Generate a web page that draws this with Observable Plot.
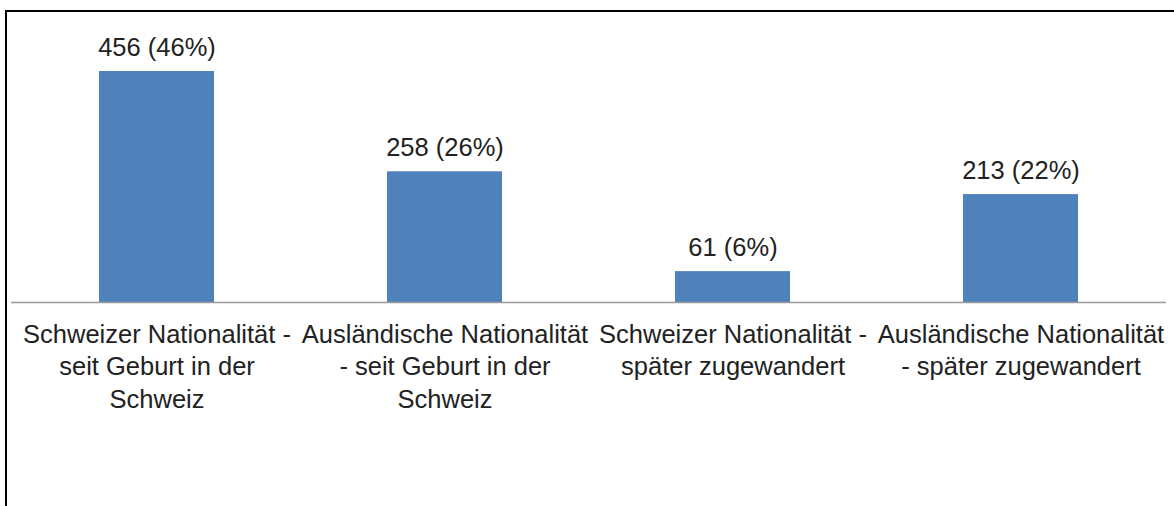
<!DOCTYPE html>
<html>
<head>
<meta charset="utf-8">
<script src="https://cdn.jsdelivr.net/npm/d3@7"></script>
<script src="https://cdn.jsdelivr.net/npm/@observablehq/plot@0.6"></script>
<style>
  html, body { margin: 0; padding: 0; background: #fff; }
  #wrap { position: relative; width: 1174px; height: 506px; overflow: hidden; }
  #frame { position: absolute; left: 5px; top: 10px; width: 1200px; height: 600px;
           border-left: 2px solid #000; border-top: 2px solid #000; box-sizing: border-box; }
  #chart { position: absolute; left: 0; top: 0; }
</style>
</head>
<body>
<div id="wrap"><div id="frame"></div><div id="chart"></div></div>
<script>
const categories = [
  "Schweizer Nationalität - seit Geburt in der Schweiz",
  "Ausländische Nationalität - seit Geburt in der Schweiz",
  "Schweizer Nationalität - später zugewandert",
  "Ausländische Nationalität - später zugewandert"
];
const tickLabels = [
  "Schweizer Nationalität -\nseit Geburt in der\nSchweiz",
  "Ausländische Nationalität\n- seit Geburt in der\nSchweiz",
  "Schweizer Nationalität -\nspäter zugewandert",
  "Ausländische Nationalität\n- später zugewandert"
];
const counts = [456, 258, 61, 213];
const percents = [46, 26, 6, 22];

const data = categories.map((c, i) => ({
  category: c,
  count: counts[i],
  label: `${counts[i]} (${percents[i]}%)`,
  tick: tickLabels[i]
}));

const font = "'Liberation Sans', Arial, Helvetica, sans-serif";

const chart = Plot.plot({
  width: 1174,
  height: 506,
  marginLeft: 11,
  marginRight: 8,
  marginTop: 71,
  marginBottom: 204,
  style: { fontFamily: font, background: "transparent", overflow: "visible" },
  x: { domain: categories, paddingInner: 0.6, paddingOuter: 0.3, axis: null },
  y: { domain: [0, d3.max(counts)], axis: null },
  marks: [
    Plot.barY(data, { x: "category", y: "count", fill: "#4f81bd" }),
    Plot.ruleY([0], { stroke: "#9a9a9a", strokeWidth: 1.5 }),
    Plot.text(data, {
      x: "category", y: "count", text: "label",
      lineAnchor: "bottom", dy: -16,
      fontSize: 25.5, fill: "#222"
    }),
    Plot.text(data, {
      x: "category", text: "tick", frameAnchor: "bottom",
      lineAnchor: "top", dy: 18, lineHeight: 1.26,
      fontSize: 25.5, fill: "#222"
    })
  ]
});
document.getElementById("chart").appendChild(chart);
</script>
</body>
</html>
